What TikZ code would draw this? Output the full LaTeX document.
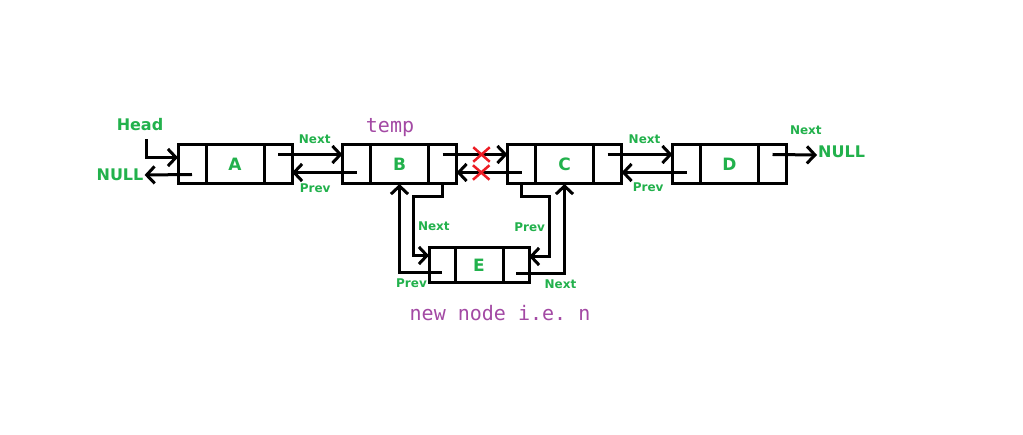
\documentclass[tikz,border=0pt]{standalone}
\usepackage{fontspec}
\setmainfont{DejaVu Sans}
\setmonofont{DejaVu Sans Mono}
\usetikzlibrary{arrows.meta, positioning, shapes.misc}
\definecolor{lgreen}{RGB}{34,177,76}
\definecolor{lpurple}{RGB}{163,73,164}
\definecolor{lred}{RGB}{237,28,36}

\begin{document}
\begin{tikzpicture}[x=1pt, y=-1pt,
  data/.style={
    rectangle, draw, line width=3pt,
    outer sep=0pt, inner sep=0pt,
    minimum width=58pt, minimum height=39pt,
    text=lgreen, font=\fontsize{17}{19}\selectfont\bfseries
  },
  link/.style={data, minimum width=28pt},
  arr/.style={-{Straight Barb[length=8pt,width=17pt]}, line width=3pt},
  lbl/.style={text=lgreen, inner sep=1pt, font=\fontsize{12}{14}\selectfont\bfseries},
  big/.style={text=lgreen, inner sep=1pt, font=\fontsize{16}{18}\selectfont\bfseries},
  tag/.style={text=lpurple, font=\fontsize{20}{22}\selectfont\ttfamily},
  cut/.style={cross out, draw=lred, line width=2.5pt,
    minimum width=14pt, minimum height=12pt, inner sep=0pt}
]
  \fill[white] (0,0) rectangle (1023,435);

  % the list
  \node[data] (A) at (235,164.5) {A};
  \node[link, left=0pt of A] (Ap) {};
  \node[link, right=0pt of A] (An) {};
  \node[data] (B) at (399.5,164.5) {B};
  \node[link, left=0pt of B] (Bp) {};
  \node[link, right=0pt of B] (Bn) {};
  \node[data] (C) at (564.5,164.5) {C};
  \node[link, left=0pt of C] (Cp) {};
  \node[link, right=0pt of C] (Cn) {};
  \node[data] (D) at (729.5,164.5) {D};
  \node[link, left=0pt of D] (Dp) {};
  \node[link, right=0pt of D] (Dn) {};

  % new node
  \node[data, minimum width=48pt, minimum height=35pt] (E) at (479,265.5) {E};
  \node[link, minimum width=26pt, minimum height=35pt, left=0pt of E] (Ep) {};
  \node[link, minimum width=26pt, minimum height=35pt, right=0pt of E] (En) {};

  \node[big] (head) at (140,125) {Head};
  \node[big] (nullL) at (120,175) {NULL};
  \node[big, anchor=west] (nullR) at (817,152) {NULL};
  \node[tag] (temp) at (390,128) {temp};
  \node[tag] (newn) at (500,313) {new node i.e. n};

  \draw[arr] ([xshift=6pt,yshift=-7pt]head.south) |- ([yshift=7pt]Ap.west);
  \draw[arr] ([yshift=-10pt]Ap.center) -- (nullL.east);

  \draw[arr] ([yshift=10pt]An.center) -- node[lbl, pos=0.57, above=8pt] (nx1) {Next} ([yshift=10pt]Bp.west);
  \draw[arr] ([yshift=-8pt]Bp.center) -- node[lbl, pos=0.64, below=9pt] (pv1) {Prev} ([yshift=-8pt]An.east);

  \draw[arr] ([yshift=10pt]Bn.center) -- node[cut, pos=0.6] (x1) {} ([yshift=10pt]Cp.west);
  \draw[arr] ([yshift=-8pt]Cp.center) -- node[cut, pos=0.62] (x2) {} ([yshift=-8pt]Bn.east);

  \draw[arr] ([yshift=10pt]Cn.center) -- node[lbl, pos=0.57, above=8pt] (nx2) {Next} ([yshift=10pt]Dp.west);
  \draw[arr] ([yshift=-8pt]Dp.center) -- node[lbl, pos=0.59, below=8pt] (pv2) {Prev} ([yshift=-8pt]Cn.east);

  \draw[arr] ([yshift=10pt]Dn.center) -- node[lbl, pos=0.75, above=18pt] (nx3) {Next} ([yshift=-3pt]nullR.west);

  % links to and from E
  \draw[arr] (Bn.south) -- ++(0,13) -- ++(-29,0)
    |- node[lbl, pos=0.25, right=2pt] (nx4) {Next} ([yshift=10pt]Ep.west);
  \draw[arr] ([yshift=-7pt]Ep.center) -| node[lbl, pos=0.5, below=4pt, xshift=12pt] (pv4) {Prev} (B.south);
  \draw[arr] (Cp.south) -- ++(0,13) -- ++(28,0)
    |- node[lbl, pos=0.25, left=2pt] (pv3) {Prev} ([yshift=9pt]En.east);
  \draw[arr] ([yshift=-8pt]En.center) -| node[lbl, pos=0.5, below=4pt, xshift=-4pt] (nx5) {Next} (C.south);
\end{tikzpicture}
\end{document}
